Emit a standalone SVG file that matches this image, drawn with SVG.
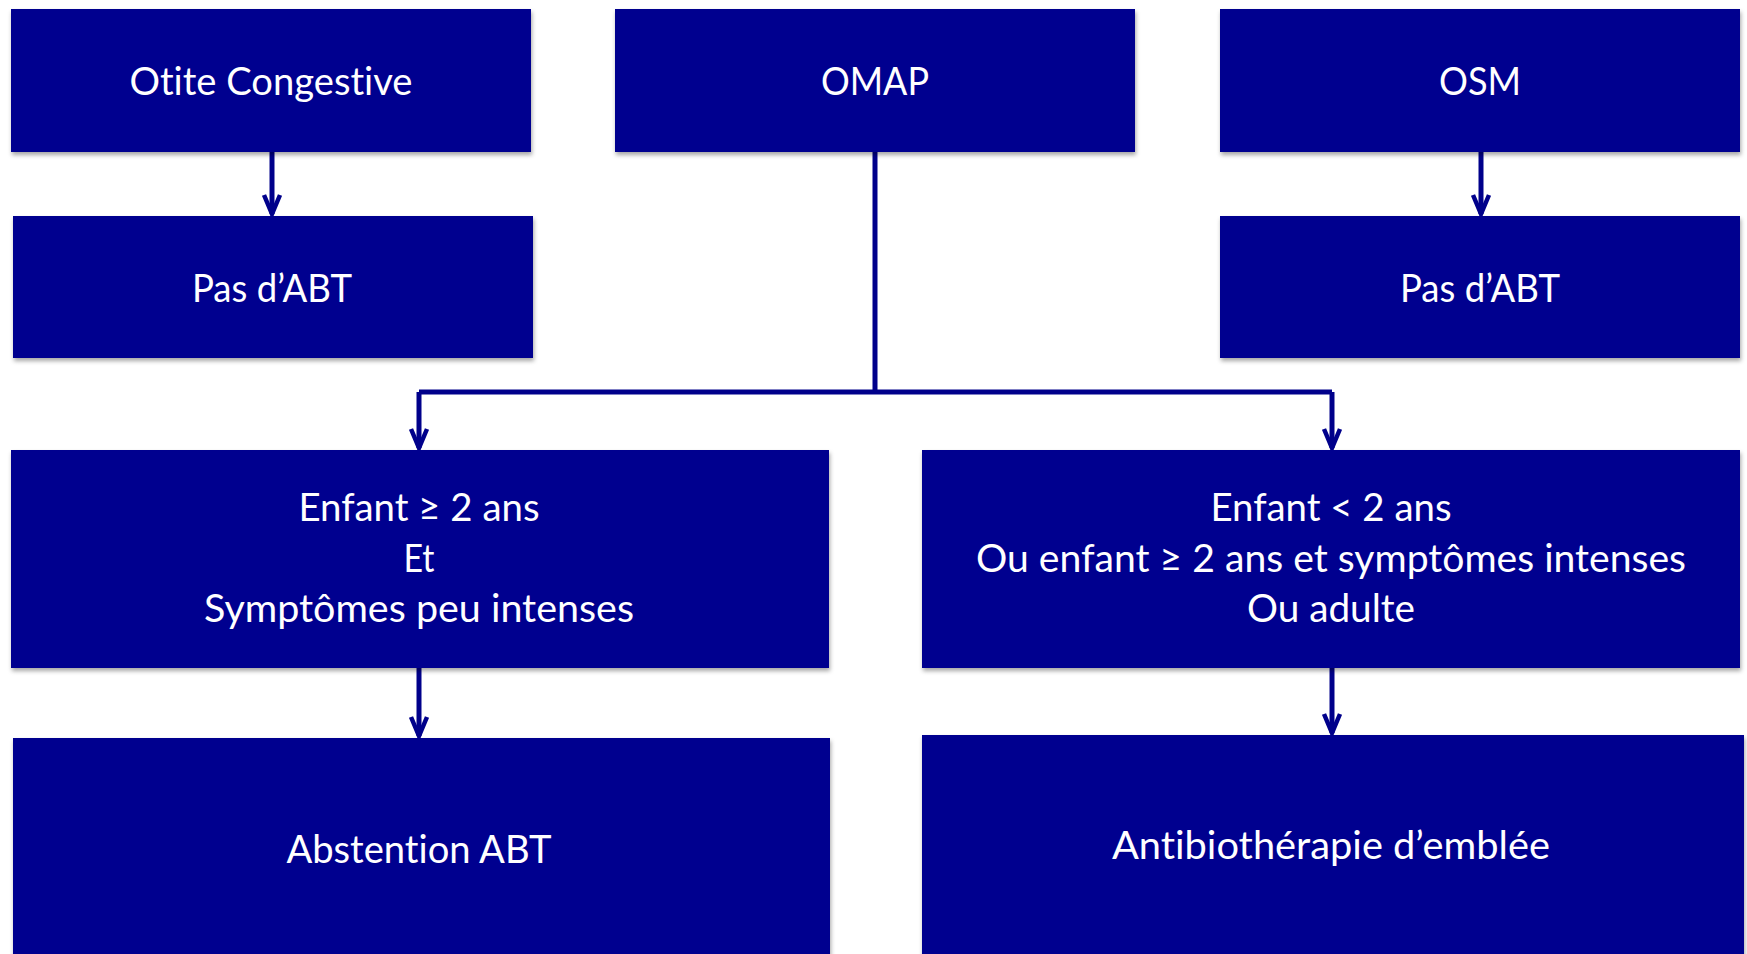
<svg xmlns="http://www.w3.org/2000/svg" width="1747" height="954" viewBox="0 0 1747 954">
  <defs>
    <filter id="sh" x="-5%" y="-5%" width="110%" height="120%">
      <feDropShadow dx="1" dy="3" stdDeviation="2" flood-color="#000" flood-opacity="0.35"/>
    </filter>
    <marker id="arr" markerUnits="userSpaceOnUse" viewBox="-22 -12 26 24" refX="0" refY="0" markerWidth="26" markerHeight="24" orient="auto">
      <path d="M-19,-8 L0,0 L-19,8" fill="none" stroke="#00008B" stroke-width="4.5" stroke-linejoin="miter"/>
    </marker>
    <style>
      .box { fill: #00008F; filter: url(#sh); }
      .t { fill: #ffffff; font-family: Lato, "Open Sans", "Liberation Sans", sans-serif; font-size: 38px; text-anchor: middle; font-variant-ligatures: none; font-feature-settings: "liga" 0, "clig" 0; }
      .c { fill: none; stroke: #00008B; stroke-width: 5; }
      .a { marker-end: url(#arr); }
    </style>
  </defs>
  <rect width="1747" height="954" fill="#ffffff"/>

  <g id="connectors">
    <path class="c a" d="M272,152 V214"/>
    <path class="c a" d="M1481,152 V214"/>
    <path class="c" d="M875,152 V392"/>
    <path class="c a" d="M419,392 H1332 M419,392 V448"/>
    <path class="c a" d="M1332,392 V448"/>
    <path class="c a" d="M419,668 V736"/>
    <path class="c a" d="M1332,668 V733"/>
  </g>

  <g id="otite">
    <rect class="box" x="11" y="9" width="520" height="143"/>
    <text class="t" x="271" y="95" textLength="283" lengthAdjust="spacingAndGlyphs">Otite Congestive</text>
  </g>
  <g id="omap">
    <rect class="box" x="615" y="9" width="520" height="143"/>
    <text class="t" x="875" y="95" textLength="108" lengthAdjust="spacingAndGlyphs">OMAP</text>
  </g>
  <g id="osm">
    <rect class="box" x="1220" y="9" width="520" height="143"/>
    <text class="t" x="1480" y="95" textLength="82" lengthAdjust="spacingAndGlyphs">OSM</text>
  </g>
  <g id="pas-abt-left">
    <rect class="box" x="13" y="216" width="520" height="142"/>
    <text class="t" x="272" y="302" textLength="160" lengthAdjust="spacingAndGlyphs">Pas d’ABT</text>
  </g>
  <g id="pas-abt-right">
    <rect class="box" x="1220" y="216" width="520" height="142"/>
    <text class="t" x="1480" y="302" textLength="160" lengthAdjust="spacingAndGlyphs">Pas d’ABT</text>
  </g>
  <g id="enfant-ge2">
    <rect class="box" x="11" y="450" width="818" height="218"/>
    <text class="t" x="419" y="521" textLength="241" lengthAdjust="spacingAndGlyphs">Enfant ≥ 2 ans</text>
    <text class="t" x="419" y="572" textLength="31" lengthAdjust="spacingAndGlyphs">Et</text>
    <text class="t" x="419" y="622" textLength="430" lengthAdjust="spacingAndGlyphs">Symptômes peu intenses</text>
  </g>
  <g id="enfant-lt2">
    <rect class="box" x="922" y="450" width="818" height="218"/>
    <text class="t" x="1331" y="521" textLength="241" lengthAdjust="spacingAndGlyphs">Enfant &lt; 2 ans</text>
    <text class="t" x="1331" y="572" textLength="710" lengthAdjust="spacingAndGlyphs">Ou enfant ≥ 2 ans et symptômes intenses</text>
    <text class="t" x="1331" y="622" textLength="168" lengthAdjust="spacingAndGlyphs">Ou adulte</text>
  </g>
  <g id="abstention">
    <rect class="box" x="13" y="738" width="817" height="220"/>
    <text class="t" x="419" y="863" textLength="265" lengthAdjust="spacingAndGlyphs">Abstention ABT</text>
  </g>
  <g id="antibio">
    <rect class="box" x="922" y="735" width="822" height="223"/>
    <text class="t" x="1331" y="859" textLength="438" lengthAdjust="spacingAndGlyphs">Antibiothérapie d’emblée</text>
  </g>
</svg>
